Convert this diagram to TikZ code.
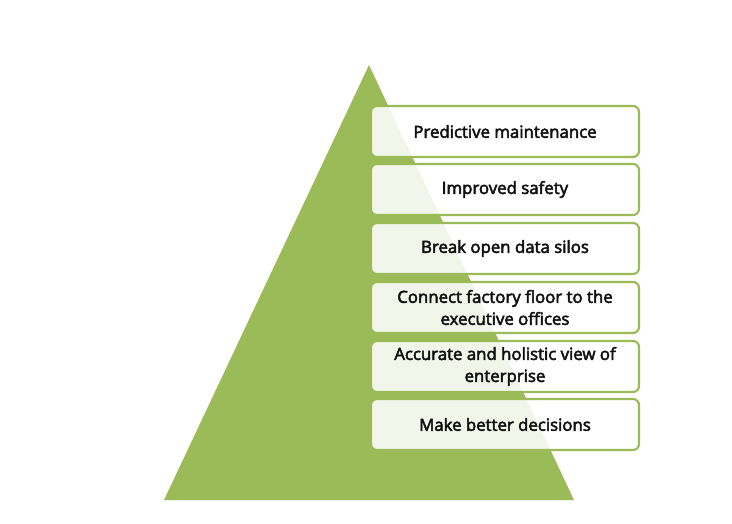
\documentclass[tikz,border=0pt]{standalone}
\usepackage{fontspec}
\setmainfont{Open Sans}[FakeBold=3]
\definecolor{olive}{HTML}{9BBB59}
\definecolor{txt}{HTML}{111111}
\begin{document}
\begin{tikzpicture}[x=1pt,y=-1pt,
  goal/.style={draw=olive,line width=2.2pt,rounded corners=6pt,fill=white,fill opacity=0.88,text opacity=1,
    minimum width=268pt,minimum height=51pt,align=center,text=txt,font=\fontsize{16.8}{22}\selectfont,inner sep=2pt}]
\useasboundingbox (0,0) rectangle (732,523);
\fill[olive] (369,65) coordinate (apex) -- (164,500) coordinate (bl) -- (574,500) coordinate (br) -- cycle;
\node[goal] (g1) at (505,131.5) {Predictive maintenance};
\node[goal] (g2) at (505,189.5) {Improved safety};
\node[goal] (g3) at (505,248.5) {Break open data silos};
\node[goal] (g4) at (505,307.5) {Connect factory floor to the\\executive offices};
\node[goal] (g5) at (505,366.5) {Accurate and holistic view of\\enterprise};
\node[goal] (g6) at (505,424.5) {Make better decisions};
\end{tikzpicture}
\end{document}
